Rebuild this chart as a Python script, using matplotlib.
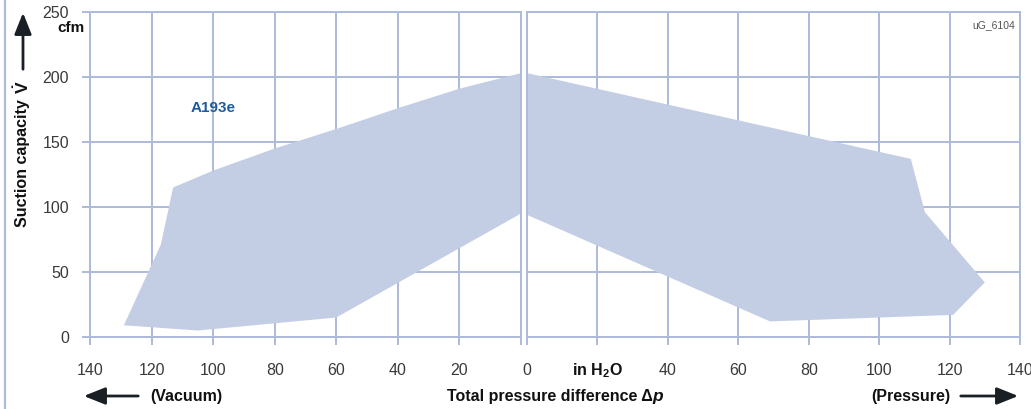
import matplotlib
matplotlib.use("Agg")
import matplotlib.pyplot as plt
from matplotlib.lines import Line2D
from matplotlib.patches import FancyArrowPatch

plt.rcParams['font.family'] = ['Liberation Sans', 'DejaVu Sans']
plt.rcParams['mathtext.fontset'] = 'custom'
plt.rcParams['mathtext.rm'] = 'Liberation Sans'
plt.rcParams['mathtext.bf'] = 'Liberation Sans:bold'
plt.rcParams['mathtext.it'] = 'Liberation Sans:italic'

# Data (vacuum side: in H2O vacuum vs cfm; pressure side: in H2O pressure vs cfm)
vac_dp = [129, 117, 113, 100, 80, 60, 40, 20, 0, 0, 60, 105]
vac_flow = [9, 71, 115, 128, 145, 160, 176, 191, 203, 95, 15, 5]
press_dp = [0, 109, 113, 130, 121, 69, 0]
press_flow = [203, 137, 96, 42, 17, 12, 94]

yticks = [0, 50, 100, 150, 200, 250]
xticks = [0, 20, 40, 60, 80, 100, 120, 140]
left_xlabels = ['', '20', '40', '60', '80', '100', '120', '140']
right_xlabels = ['0', '', '40', '60', '80', '100', '120', '140']

W, H = 1031, 409
fig = plt.figure(figsize=(W / 100, H / 100), dpi=100)

grid_c = '#adbad9'
fill_c = '#c3cde4'
text_c = '#3a3a3a'
dark = '#111111'

def fx(px):
    return px / W

def fy(py):
    return (H - py) / H

y0, y1 = 337, 12
axL = fig.add_axes([fx(90), fy(y0), fx(521 - 90), (y0 - y1) / H])
axR = fig.add_axes([fx(527), fy(y0), fx(1020 - 527), (y0 - y1) / H])

for ax in (axL, axR):
    ax.set_ylim(0, 250)
    ax.set_xlim(0, 140)
    ax.set_yticks(yticks)
    ax.set_xticks(xticks)
    ax.grid(True, color=grid_c, linewidth=1.4)
    ax.set_axisbelow(True)
    for s in ax.spines.values():
        s.set_color(grid_c)
        s.set_linewidth(1.4)
    ax.tick_params(axis='x', direction='out', length=6, width=1.4, color=grid_c,
                   labelsize=11.5, labelcolor=text_c, pad=13)

axL.invert_xaxis()
axL.fill(vac_dp, vac_flow, color=fill_c, lw=0, zorder=1)
axR.fill(press_dp, press_flow, color=fill_c, lw=0, zorder=1)

axL.set_xticklabels(left_xlabels)
axR.set_xticklabels(right_xlabels)
axL.tick_params(axis='y', direction='out', length=6, width=1.4, color=grid_c,
                labelsize=11.5, labelcolor=text_c, pad=9)
axR.tick_params(axis='y', length=0, labelleft=False)

# in H2O at the 20 position on the pressure side
axR.text(20, -25.5, r'$\mathbf{in\ H_2O}$', ha='center', va='center',
         fontsize=11.5, color=dark, clip_on=False)

axL.text(100, 176, 'A193e', color='#1d5c9c', fontsize=11, fontweight='bold',
         ha='center', va='center')
axR.text(0.99, 0.975, 'uG_6104', transform=axR.transAxes, ha='right', va='top',
         fontsize=7.5, color='#555555')

# figure-level texts
fig.text(fx(85), fy(28), 'cfm', ha='right', va='center', fontsize=11,
         fontweight='bold', color=dark)
fig.text(fx(23), fy(163), 'Suction capacity', rotation=90, ha='center', va='center',
         fontsize=11.5, fontweight='bold', color=dark)
fig.text(fx(22), fy(87), r'$\mathbf{\dot{V}}$', rotation=90, ha='center', va='center',
         fontsize=12.5, color=dark)
fig.text(fx(150), fy(396), '(Vacuum)', ha='left', va='center', fontsize=11.5,
         fontweight='bold', color=dark)
fig.text(fx(950), fy(396), '(Pressure)', ha='right', va='center', fontsize=11.5,
         fontweight='bold', color=dark)
fig.text(fx(653), fy(396), 'Total pressure difference Δ', ha='right', va='center',
         fontsize=11.5, fontweight='bold', color=dark)
fig.text(fx(652), fy(396), 'p', ha='left', va='center', fontsize=12.5,
         fontweight='bold', fontstyle='italic', color=dark)

arrow_kw = dict(arrowstyle='-|>,head_length=1.0,head_width=0.4', color='#1a1f26', lw=2)
fig.add_artist(FancyArrowPatch((fx(23), fy(72)), (fx(23), fy(10)),
               transform=fig.transFigure, mutation_scale=13, **arrow_kw))
fig.add_artist(FancyArrowPatch((fx(141), fy(396)), (fx(81), fy(396)),
               transform=fig.transFigure, mutation_scale=13, **arrow_kw))
fig.add_artist(FancyArrowPatch((fx(958), fy(396)), (fx(1021), fy(396)),
               transform=fig.transFigure, mutation_scale=13, **arrow_kw))

fig.add_artist(Line2D([fx(5), fx(5)], [0, 1], transform=fig.transFigure,
                      color=grid_c, lw=1.6))

fig.savefig('out.png', dpi=100)
